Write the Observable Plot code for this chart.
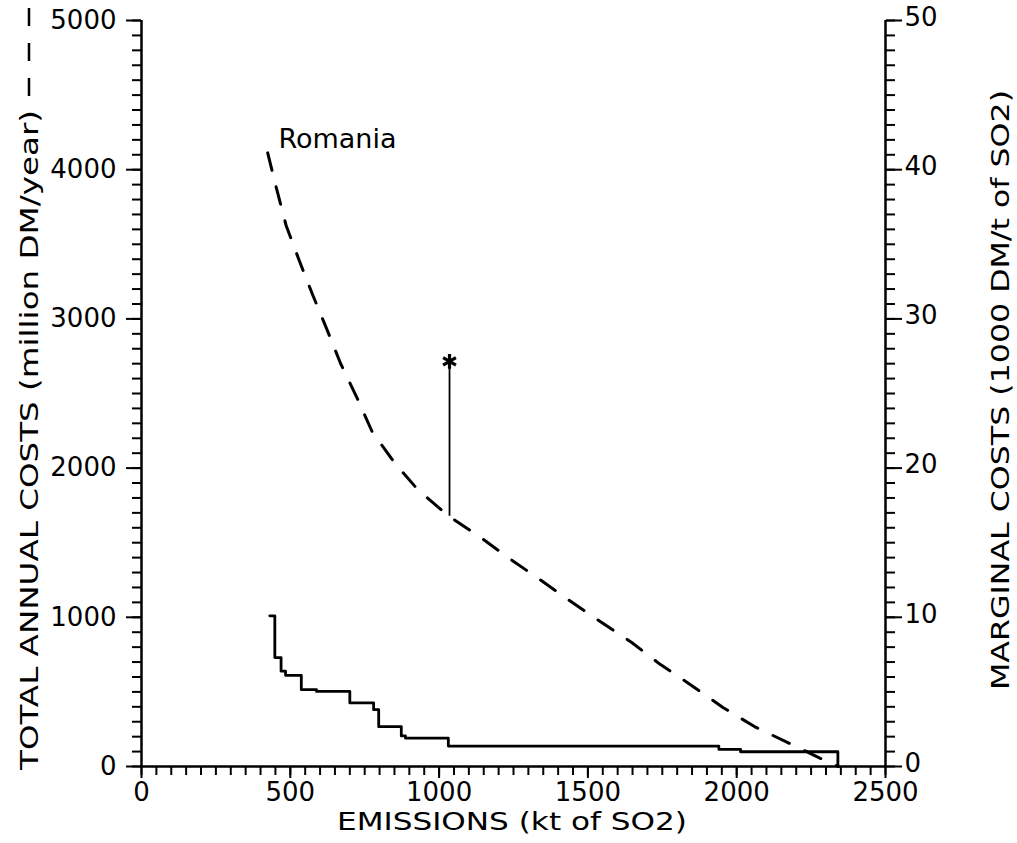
<!DOCTYPE html>
<html><head><meta charset="utf-8">
<script src="https://cdn.jsdelivr.net/npm/d3@7"></script>
<script src="https://cdn.jsdelivr.net/npm/@observablehq/plot@0.6"></script>
<style>body{margin:0;background:#fff} svg{display:block}</style>
</head><body><div id="chart"></div>
<script>
// Total annual costs (dashed) — emissions kt SO2, million DM/year
const curveEmissions = [424, 454, 486, 531, 574, 624, 669, 725, 775, 850, 930, 1033, 1130, 1232, 1333, 1436, 1540, 1646, 1744, 1847, 1955, 2061, 2170, 2287, 2342];
const curveCosts     = [4113, 3871, 3626, 3386, 3167, 2925, 2701, 2468, 2244, 2036, 1852, 1677, 1549, 1400, 1261, 1115, 973, 833, 683, 545, 394, 266, 162, 49, 0];
// Marginal costs (solid step) — 1000 DM/t of SO2
const stepEmissions = [431, 448, 469, 484, 537, 588, 700, 780, 797, 873, 887, 1031, 1940, 2013, 2340];
const marginalCosts = [10.1, 7.3, 6.39, 6.11, 5.15, 5.03, 4.26, 3.81, 2.67, 2.05, 1.9, 1.37, 1.15, 0.99, 0];
// Marked point
const starEmission = [1035];
const starLow = [1677];
const starHigh = [2715];
// Labels
const seriesLabel = ["Romania"];
const seriesLabelX = [460];
const seriesLabelY = [4205];
const xTitle = "EMISSIONS (kt of SO2)";
const yLeftTitle = "TOTAL ANNUAL COSTS (million DM/year)";
const yRightTitle = "MARGINAL COSTS (1000 DM/t of SO2)";
const xMajor = [0, 500, 1000, 1500, 2000, 2500];
const yLeftMajor = [0, 1000, 2000, 3000, 4000, 5000];
const yRightMajor = [0, 10, 20, 30, 40, 50];

const total = curveEmissions.map((e, i) => ({e, c: curveCosts[i]}));
const marg = stepEmissions.map((e, i) => ({e, m: marginalCosts[i] * 100}));
const star = starEmission.map((e, i) => ({e, lo: starLow[i], hi: starHigh[i]}));
const lab = seriesLabel.map((t, i) => ({t, x: seriesLabelX[i], y: seriesLabelY[i]}));

const font = "DejaVu Sans";
const plot = Plot.plot({
  width: 1017, height: 843,
  marginLeft: 141, marginRight: 132, marginTop: 20, marginBottom: 77,
  style: {fontFamily: font, fontSize: "26px", color: "#000", background: "#fff", overflow: "visible"},
  x: {domain: [0, 2500]},
  y: {domain: [0, 5000]},
  marks: [
    Plot.axisY({ticks: d3.range(0, 5001, 100), tickSize: 9, tickFormat: () => "", label: null, strokeWidth: 2}),
    Plot.axisY({ticks: yLeftMajor, tickSize: 15, tickPadding: 10, tickFormat: d => String(d), label: null, strokeWidth: 2}),
    Plot.axisY({anchor: "right", ticks: d3.range(0, 5001, 100), tickSize: 9, tickFormat: () => "", label: null, strokeWidth: 2}),
    Plot.axisY({anchor: "right", ticks: yRightMajor.map(v => v * 100), tickSize: 16, tickFormat: () => "", label: null, strokeWidth: 2}),
    Plot.axisY({anchor: "right", ticks: yRightMajor.map(v => v * 100), tickSize: 0, tickPadding: 19, dy: -3, tickFormat: d => String(d / 100), label: null}),
    Plot.axisX({ticks: d3.range(0, 2501, 50), tickSize: 9, tickFormat: () => "", label: null, strokeWidth: 2}),
    Plot.axisX({ticks: xMajor, tickSize: 12, tickPadding: 4, tickFormat: d => String(d), label: null, strokeWidth: 2}),
    Plot.ruleX([0], {strokeWidth: 2.5}),
    Plot.ruleX([2500], {strokeWidth: 2.5}),
    Plot.ruleY([0], {strokeWidth: 2.5}),
    Plot.line(marg, {x: "e", y: "m", curve: "step-after", stroke: "#000", strokeWidth: 2.8}),
    Plot.line(total, {x: "e", y: "c", stroke: "#000", strokeWidth: 3, strokeDasharray: "18,17"}),
    Plot.ruleX(star, {x: "e", y1: "lo", y2: "hi", stroke: "#000", strokeWidth: 1.8}),
    Plot.dot(star, {x: "e", y: "hi", symbol: "asterisk", r: 7, stroke: "#000", strokeWidth: 3.2}),
    Plot.text(lab, {x: "x", y: "y", text: "t", textAnchor: "start", fontSize: 27, fill: "#000"})
  ]
});
document.getElementById("chart").appendChild(plot);

const svg = d3.select(plot);
svg.append("text").attr("transform", "translate(38,770) rotate(-90)")
  .attr("font-family", font).attr("font-size", 25).attr("text-anchor", "start")
  .attr("textLength", 660).attr("lengthAdjust", "spacingAndGlyphs").text(yLeftTitle);
svg.append("line").attr("x1", 29).attr("x2", 29).attr("y1", 96).attr("y2", 0)
  .attr("stroke", "#000").attr("stroke-width", 2.5).attr("stroke-dasharray", "18,17");
svg.append("text").attr("transform", "translate(1009,690) rotate(-90)")
  .attr("font-family", font).attr("font-size", 25).attr("text-anchor", "start")
  .attr("textLength", 600).attr("lengthAdjust", "spacingAndGlyphs").text(yRightTitle);
svg.append("text").attr("x", 337).attr("y", 830)
  .attr("font-family", font).attr("font-size", 25).attr("text-anchor", "start")
  .attr("textLength", 350).attr("lengthAdjust", "spacingAndGlyphs").text(xTitle);
</script>
</body></html>
